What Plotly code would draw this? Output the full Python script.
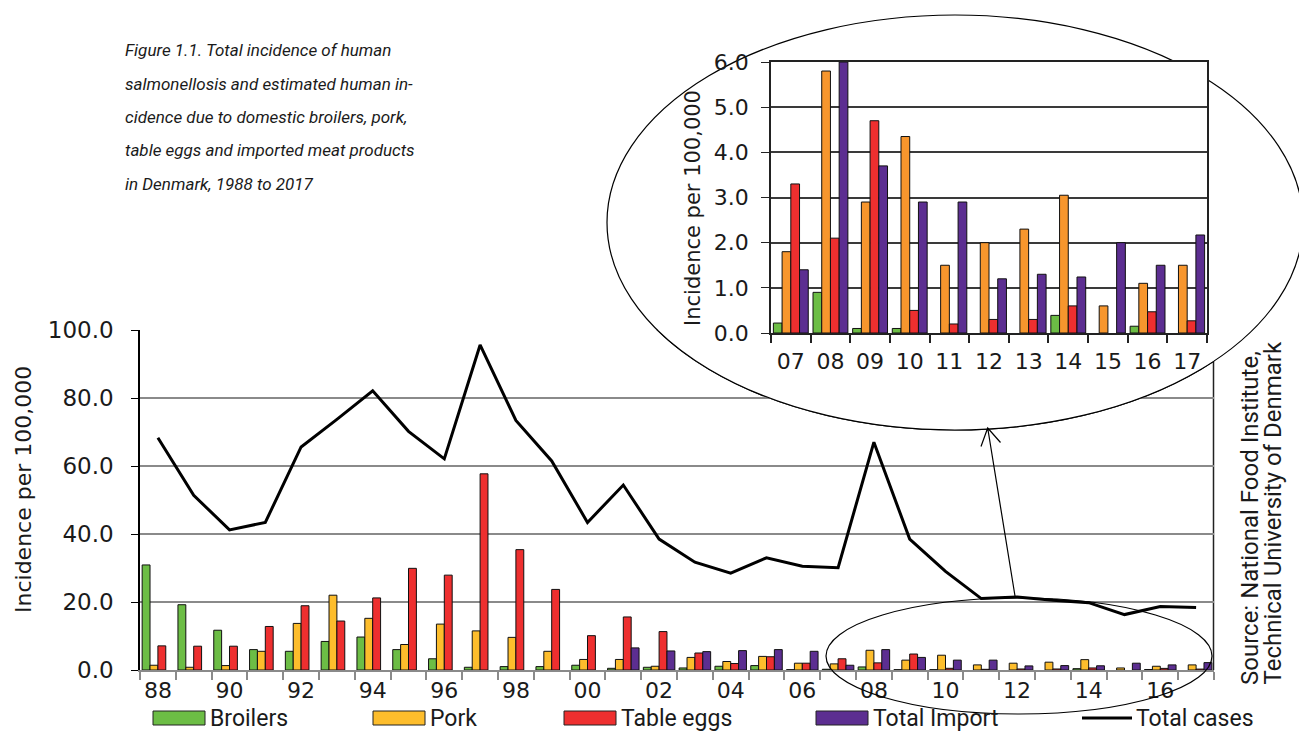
import plotly.graph_objects as go

W, H = 1299, 755

# ---------------- data ----------------
years = list(range(1988, 2018))
tick_years = years[::2]
tick_labels = ["88", "90", "92", "94", "96", "98", "00", "02", "04", "06",
               "08", "10", "12", "14", "16"]

broilers = [30.9, 19.2, 11.7, 6.0, 5.5, 8.4, 9.7, 6.0, 3.3, 0.8,
            1.0, 1.0, 1.4, 0.5, 0.8, 0.6, 1.1, 1.3, 0.1, 0.22,
            0.9, 0.1, 0.1, 0.0, 0.0, 0.0, 0.39, 0.0, 0.15, 0.0]
pork = [1.4, 0.8, 1.3, 5.5, 13.7, 22.0, 15.2, 7.5, 13.5, 11.5,
        9.6, 5.5, 3.1, 3.1, 1.1, 3.7, 2.5, 4.0, 2.0, 1.8,
        5.8, 2.9, 4.35, 1.5, 2.0, 2.3, 3.05, 0.6, 1.1, 1.5]
table_eggs = [7.1, 7.0, 7.0, 12.8, 18.9, 14.4, 21.2, 29.9, 27.9, 57.7,
              35.4, 23.7, 10.1, 15.6, 11.3, 5.0, 1.9, 3.9, 2.0, 3.3,
              2.1, 4.7, 0.5, 0.2, 0.3, 0.3, 0.6, 0.0, 0.47, 0.27]
total_import = [0.0, 0.0, 0.0, 0.0, 0.0, 0.0, 0.0, 0.0, 0.0, 0.0,
                0.0, 0.0, 0.0, 6.5, 5.6, 5.4, 5.7, 6.0, 5.5, 1.4,
                6.0, 3.7, 2.9, 2.9, 1.2, 1.3, 1.24, 2.0, 1.5, 2.17]
total_cases = [68.3, 51.4, 41.2, 43.4, 65.6, 73.7, 82.1, 70.2, 62.1, 95.6,
               73.4, 61.5, 43.4, 54.4, 38.5, 31.7, 28.5, 33.0, 30.5, 30.1,
               67.0, 38.5, 29.0, 21.0, 21.5, 20.5, 19.8, 16.3, 18.7, 18.4]

inset_start = years.index(2007)
inset_years = years[inset_start:]
inset_labels = ["07", "08", "09", "10", "11", "12", "13", "14", "15", "16", "17"]

main_ticks = [0, 20, 40, 60, 80, 100]
inset_ticks = [0, 1, 2, 3, 4, 5, 6]

caption_lines = ["Figure 1.1. Total incidence of human",
                 "salmonellosis and estimated human in-",
                 "cidence due to domestic broilers, pork,",
                 "table eggs and imported meat products",
                 "in Denmark, 1988 to 2017"]
source_lines = ["Source: National Food Institute,",
                "Technical University of Denmark"]
legend_names = ["Broilers", "Pork", "Table eggs", "Total Import", "Total cases"]

# ---------------- style ----------------
C_GREEN = "#6cbd45"
C_PORK = "#fdbd2c"
C_PORK_INSET = "#f7962d"
C_RED = "#ee2f2f"
C_PURPLE = "#5c2e91"
TICK_FONT = dict(family="DejaVu Sans", size=22, color="#1a1a1a")
MAIN_Y_FONT = dict(family="DejaVu Sans", size=23, color="#1a1a1a")
TEXT_FONT = "Roboto"


def PX(x):
    return x / W


def PY(y):
    return 1 - y / H


# main plot area in pixels
MX0, MX1, MY0, MY1 = 140, 1214, 330, 670
# inset plot area in pixels
IX0, IX1, IY0, IY1 = 771, 1207, 62, 333


def nz(arr):
    return [v if v > 0 else None for v in arr]


fig = go.Figure()

bar_line = dict(color="#111111", width=1)
for name, vals, col in [("Broilers", broilers, C_GREEN),
                        ("Pork", pork, C_PORK),
                        ("Table eggs", table_eggs, C_RED),
                        ("Total Import", total_import, C_PURPLE)]:
    fig.add_trace(go.Bar(x=years, y=nz(vals), name=name,
                         marker=dict(color=col, line=bar_line),
                         xaxis="x", yaxis="y", showlegend=False))
fig.add_trace(go.Scatter(x=years, y=total_cases, mode="lines", name="Total cases",
                         line=dict(color="black", width=3),
                         xaxis="x", yaxis="y", showlegend=False))

for name, vals, col in [("Broilers", broilers, C_GREEN),
                        ("Pork", pork, C_PORK_INSET),
                        ("Table eggs", table_eggs, C_RED),
                        ("Total Import", total_import, C_PURPLE)]:
    fig.add_trace(go.Bar(x=inset_years, y=nz(vals[inset_start:]), name=name,
                         marker=dict(color=col, line=bar_line),
                         xaxis="x2", yaxis="y2", showlegend=False))

fig.update_layout(
    width=W, height=H,
    margin=dict(l=0, r=0, t=0, b=0),
    paper_bgcolor="white", plot_bgcolor="white",
    barmode="group", bargap=0.12, bargroupgap=0,
    showlegend=False,
    xaxis=dict(domain=[PX(MX0), PX(MX1)], range=[years[0] - 0.5, years[-1] + 0.5],
               tickmode="array", tickvals=tick_years, ticktext=tick_labels,
               ticks="", showgrid=False, zeroline=False,
               showline=True, linecolor="#8a8a8a", linewidth=2,
               tickfont=TICK_FONT, ticklabelstandoff=0, automargin=False,
               minor=dict(tickmode="array", tickvals=[y - 0.5 for y in years] + [years[-1] + 0.5],
                          ticks="outside", ticklen=8, tickcolor="#8a8a8a", tickwidth=1.5,
                          showgrid=False)),
    yaxis=dict(domain=[PY(MY1), PY(MY0)], range=[0, 100],
               tickmode="array", tickvals=main_ticks, tickformat=".1f",
               ticks="outside", ticklen=7, tickcolor="black",
               showline=True, linecolor="black", linewidth=1.5,
               showgrid=True, gridcolor="#8a8a8a", gridwidth=1.5, zeroline=False,
               tickfont=MAIN_Y_FONT, ticklabelstandoff=13, automargin=False),
    xaxis2=dict(domain=[PX(IX0), PX(IX1)], anchor="y2",
                range=[inset_years[0] - 0.5, inset_years[-1] + 0.5],
                tickmode="array", tickvals=inset_years, ticktext=inset_labels,
                ticks="", showgrid=False, zeroline=False,
                showline=True, mirror=True, linecolor="#222222", linewidth=1.5,
                tickfont=TICK_FONT, ticklabelstandoff=8, automargin=False,
                minor=dict(tickmode="array",
                           tickvals=[y - 0.5 for y in inset_years] + [inset_years[-1] + 0.5],
                           ticks="outside", ticklen=8, tickcolor="#222222", tickwidth=1.5,
                           showgrid=False)),
    yaxis2=dict(domain=[PY(IY1), PY(IY0)], anchor="x2", range=[0, 6],
                tickmode="array", tickvals=inset_ticks, tickformat=".1f",
                ticks="outside", ticklen=8, tickcolor="#222222",
                showline=True, mirror=True, linecolor="#222222", linewidth=1.5,
                showgrid=True, gridcolor="#3a3a3a", gridwidth=1.5, zeroline=False,
                tickfont=TICK_FONT, ticklabelstandoff=8, automargin=False),
)


# --- conversion from pixel to main-axis data units (for the clipped cover ellipse)
def DX(px):
    return (years[0] - 0.5) + (px - MX0) / (MX1 - MX0) * len(years)


def DY(py):
    return (MY1 - py) / (MY1 - MY0) * 100


E = dict(x0=607, x1=1303, top=15, bottom=430)
shapes = []
# right border of main plot (under everything)
shapes.append(dict(type="line", xref="paper", yref="paper", layer="below",
                   x0=PX(MX1 - 0.5), x1=PX(MX1 - 0.5), y0=PY(MY1), y1=PY(MY0),
                   line=dict(color="#222222", width=1.5)))
# big ellipse, full outline (below)
shapes.append(dict(type="circle", xref="paper", yref="paper", layer="below",
                   x0=PX(E["x0"]), x1=PX(E["x1"]), y0=PY(E["bottom"]), y1=PY(E["top"]),
                   fillcolor="white", line=dict(color="black", width=1.2)))
# big ellipse, covering main gridlines (clipped to main plot)
shapes.append(dict(type="circle", xref="x", yref="y", layer="between",
                   x0=DX(E["x0"]), x1=DX(E["x1"]), y0=DY(E["bottom"]), y1=DY(E["top"]),
                   fillcolor="white", line=dict(color="black", width=1.2)))
# small ellipse
shapes.append(dict(type="circle", xref="paper", yref="paper", layer="above",
                   x0=PX(826), x1=PX(1212), y0=PY(714), y1=PY(598),
                   fillcolor="rgba(0,0,0,0)", line=dict(color="black", width=1.2)))
# arrow
tail, tip = (1015, 596), (987.7, 428)
h1, h2 = (981, 446.5), (1000.5, 442.5)
path = (f"M {PX(tail[0])},{PY(tail[1])} L {PX(tip[0])},{PY(tip[1])} "
        f"M {PX(h1[0])},{PY(h1[1])} L {PX(tip[0])},{PY(tip[1])} L {PX(h2[0])},{PY(h2[1])}")
shapes.append(dict(type="path", xref="paper", yref="paper", layer="above", path=path,
                   line=dict(color="black", width=1.2)))

# legend (manual)
legend_x = [153, 373, 564, 816, 1082]
legend_cols = [C_GREEN, C_PORK, C_RED, C_PURPLE, None]
LY = 718
annotations = []
for nm, x0, col in zip(legend_names, legend_x, legend_cols):
    if col:
        shapes.append(dict(type="rect", xref="paper", yref="paper", layer="above",
                           x0=PX(x0), x1=PX(x0 + 52), y0=PY(LY + 7), y1=PY(LY - 7),
                           fillcolor=col, line=dict(color="#222222", width=1)))
        tx = x0 + 55
    else:
        shapes.append(dict(type="line", xref="paper", yref="paper", layer="above",
                           x0=PX(x0), x1=PX(x0 + 50), y0=PY(LY), y1=PY(LY),
                           line=dict(color="black", width=3)))
        tx = x0 + 52
    annotations.append(dict(xref="paper", yref="paper", x=PX(tx), y=PY(LY),
                            xanchor="left", yanchor="middle", showarrow=False,
                            text=nm, font=dict(family=TEXT_FONT, size=23, color="#1a1a1a")))

# axis titles
annotations.append(dict(xref="paper", yref="paper", x=PX(23), y=PY(490), textangle=-90,
                        xanchor="center", yanchor="middle", showarrow=False,
                        text="Incidence per 100,000",
                        font=dict(family="DejaVu Sans", size=22, color="#1a1a1a")))
annotations.append(dict(xref="paper", yref="paper", x=PX(693), y=PY(208), textangle=-90,
                        xanchor="center", yanchor="middle", showarrow=False,
                        text="Incidence per 100,000",
                        font=dict(family="DejaVu Sans", size=21, color="#1a1a1a")))

# caption
cap_y = [50, 84, 117, 150, 184]
for line, yy in zip(caption_lines, cap_y):
    annotations.append(dict(xref="paper", yref="paper", x=PX(123), y=PY(yy),
                            xanchor="left", yanchor="middle", showarrow=False,
                            text=line,
                            font=dict(family=TEXT_FONT, size=17, color="#1a1a1a",
                                      style="italic")))

# source
for line, xx in zip(source_lines, [1250, 1272]):
    annotations.append(dict(xref="paper", yref="paper", x=PX(xx), y=PY(687), textangle=-90,
                            xanchor="center", yanchor="bottom", showarrow=False,
                            text=line, font=dict(family=TEXT_FONT, size=24, color="#1a1a1a")))

fig.update_layout(shapes=shapes, annotations=annotations)
fig.write_html("out.html", config={"displayModeBar": False},
               post_script="document.body.style.margin='0px';")
